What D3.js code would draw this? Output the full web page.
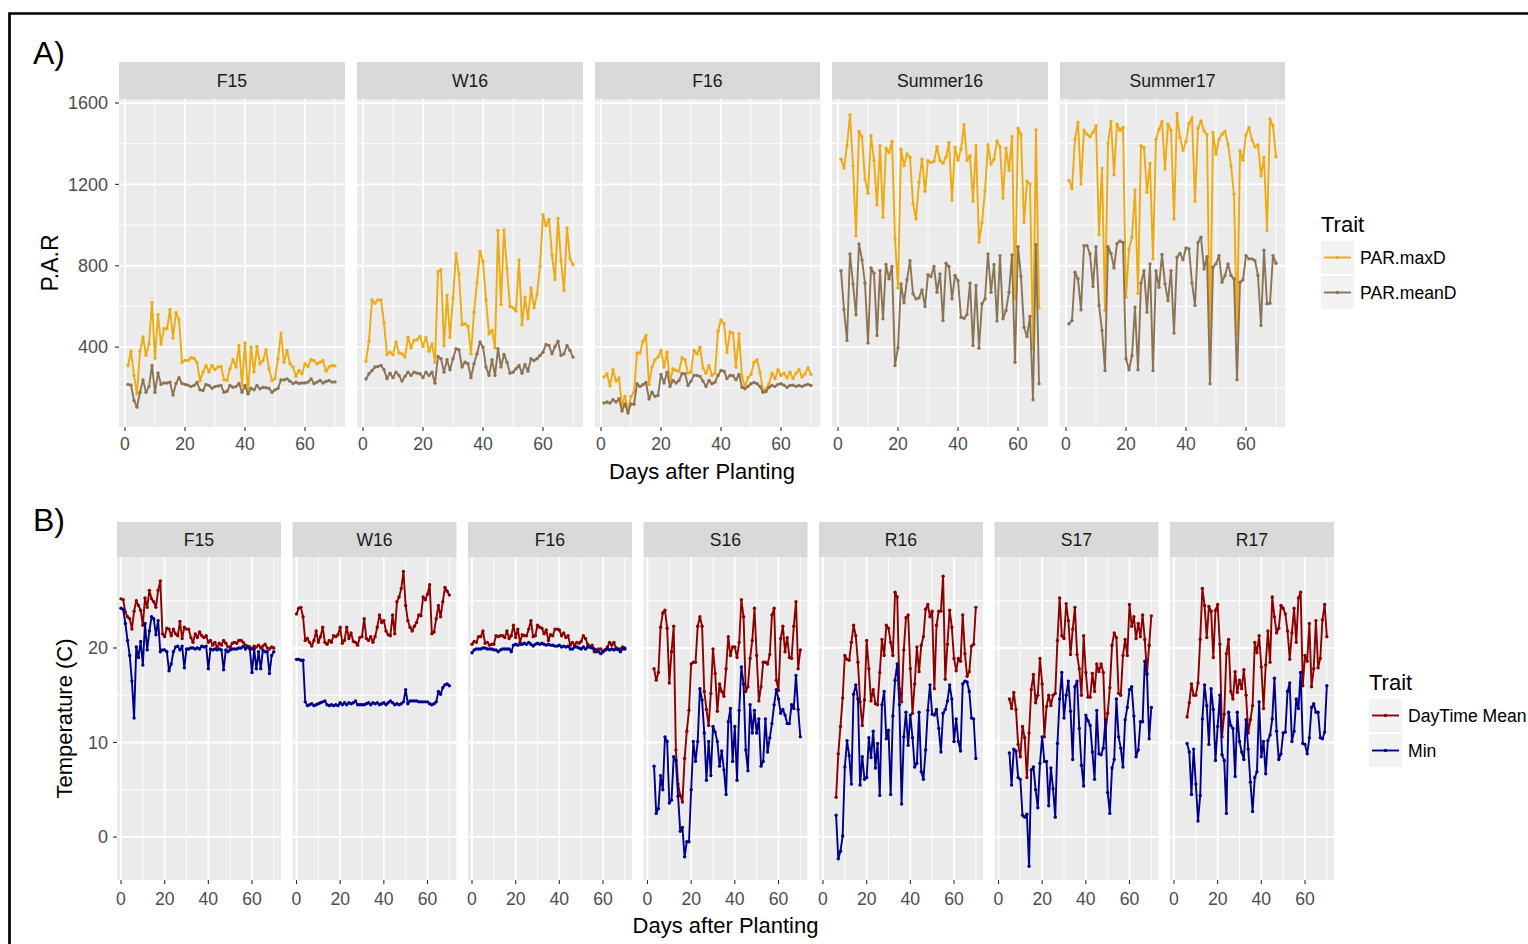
<!DOCTYPE html>
<html>
<head>
<meta charset="utf-8">
<script src="https://cdn.jsdelivr.net/npm/d3@7"></script>
<style>
body { margin: 0; background: #fff; }
text { font-family: "Liberation Sans", Arial, sans-serif; }
</style>
</head>
<body>
<svg id="chart" width="1528" height="944"></svg>
<script>

//////////////////////////////////////////////////////////////////////////////
// Data: panel A (P.A.R), one value per day starting at day 1

var seasonsA = ["F15", "W16", "F16", "Summer16", "Summer17"];
var startA = [1, 1, 1, 1, 1];

var parMaxF15 = [310,380,260,171,380,450,360,415,620,345,560,415,490,490,585,445,570,535,325,335,
    335,348,345,325,235,278,310,278,310,290,302,305,240,236,295,338,302,408,212,420,
    171,400,278,403,318,334,387,294,236,245,343,469,326,384,318,302,256,285,269,318,
    305,338,334,318,326,334,282,302,310,308];
var parMeanF15 = [217,213,138,105,178,239,178,206,310,178,273,217,224,224,228,165,221,250,221,217,
    213,206,211,226,190,187,217,211,198,206,209,211,178,183,211,203,206,221,178,211,
    170,198,190,211,195,203,200,198,178,190,198,239,239,244,232,221,228,221,224,224,
    228,244,221,228,236,224,231,236,228,229];

var parMaxW16 = [331,429,632,616,632,632,519,364,375,362,425,371,367,351,449,397,433,436,452,403,
    449,380,416,326,771,780,407,654,449,642,858,760,510,515,503,367,572,716,870,822,
    632,465,482,397,973,609,976,784,600,593,577,829,510,645,539,691,593,658,796,1051,
    997,1028,852,732,1033,825,678,986,834,806];
var parMeanW16 = [243,269,285,302,305,310,289,245,272,250,277,261,233,256,277,261,277,272,269,250,
    277,261,277,223,354,343,277,338,289,343,392,387,302,326,318,250,318,367,425,400,
    302,261,338,261,392,302,364,326,272,277,294,310,272,315,282,343,334,343,359,375,
    413,408,367,403,429,359,367,408,384,351];

var parMaxF16 = [253,269,209,289,233,248,114,158,86,158,178,371,371,429,457,217,302,338,351,384,
    302,375,228,294,285,282,348,338,272,277,384,367,400,298,272,310,261,272,478,534,
    515,375,474,469,302,465,253,206,250,266,326,338,277,187,195,220,272,245,289,261,
    272,250,277,245,272,289,253,269,298,266];
var parMeanF16 = [125,130,125,141,130,146,86,121,76,121,119,220,207,215,226,145,178,158,163,266,
    224,277,207,236,224,236,269,269,211,233,261,261,256,233,207,236,220,228,261,285,
    282,245,261,259,240,266,203,195,207,220,226,220,207,178,182,203,211,207,217,220,
    213,203,211,213,207,211,207,213,217,211];

var parMaxSummer16 = [1324,1280,1390,1542,1292,948,1460,1434,1226,1156,1439,1319,1100,1390,1038,1378,1357,1411,931,691,
    1373,1292,1349,1333,1107,1030,1210,1324,1166,1316,1308,1313,1385,1316,1303,1333,1406,1123,1382,1319,
    1373,1493,1319,1341,1117,1390,915,1013,1169,1395,1300,1324,1414,1385,1133,1378,1270,1434,637,1476,
    1444,1013,1215,1202,392,1467,593];
var parMeanSummer16 = [776,585,433,858,711,559,907,829,714,420,789,763,457,776,539,806,736,796,310,397,
    711,618,731,825,662,637,642,681,600,756,747,796,670,760,531,812,796,637,752,727,
    547,542,560,714,408,703,395,613,637,858,670,806,528,850,539,580,670,853,326,894,
    747,498,452,551,141,904,220];

var parMaxSummer17 = [1219,1180,1422,1504,1202,1466,1447,1434,1455,1488,953,1280,580,1401,1509,1247,1496,1466,1480,645,
    883,940,1172,665,1390,1381,1161,1303,834,1422,1471,1509,1275,1496,1466,1030,1548,1431,1368,1411,
    1499,1526,1117,1476,1512,1463,1444,420,1455,1349,1422,1447,1460,1398,1292,1152,457,1365,1319,1444,
    1480,1418,1385,1395,1242,1333,973,1521,1488,1336];
var parMeanSummer17 = [515,531,768,736,583,899,899,858,698,894,605,482,285,894,861,789,909,922,914,343,
    289,359,596,289,714,776,572,809,285,776,694,855,711,629,776,469,842,861,829,888,
    883,714,605,914,940,784,845,220,793,809,850,719,752,809,752,736,240,719,731,850,
    834,834,825,752,506,876,613,616,850,812];

var yTicksA = [400, 800, 1200, 1600];
var yMinorA = [200, 600, 1000, 1400];

//////////////////////////////////////////////////////////////////////////////
// Data: panel B (temperature)

var seasonsB = ["F15", "W16", "F16", "S16", "R16", "S17", "R17"];
var startB = [0, 0, 0, 3, 6, 5, 6];

var tMeanF15 = [25.2,25.1,23.8,23.3,23.1,22.0,23.9,25.0,24.5,24.0,22.4,25.3,24.3,26.1,25.2,24.9,24.3,26.1,27.1,21.5,
    21.2,22.1,22.0,21.3,22.0,21.5,21.3,22.8,21.0,22.2,22.0,22.0,21.1,20.6,21.5,21.1,21.7,21.3,21.1,21.3,
    20.6,20.8,20.3,20.6,20.1,20.5,20.3,20.8,20.5,20.1,20.1,20.5,20.6,20.5,20.8,20.8,20.6,20.3,20.2,20.1,
    19.9,20.2,20.1,20.3,20.0,20.2,20.4,20.0,19.9,20.1,20.0];
var tMinF15 = [24.2,24.1,22.6,20.8,19.2,16.5,12.6,20.1,19.0,20.7,18.2,22.6,19.8,21.8,23.3,23.1,21.4,22.9,19.6,19.8,
    19.8,19.6,17.6,18.3,19.6,20.1,20.2,19.8,20.2,17.9,19.9,19.9,20.0,20.0,19.9,20.0,19.9,20.2,20.1,20.2,
    17.8,19.9,19.8,19.9,19.8,19.9,19.8,17.7,19.8,19.6,19.8,19.9,19.9,19.9,20.0,20.0,20.2,19.9,20.1,19.9,
    17.4,19.9,17.8,19.6,17.8,19.8,19.6,19.6,17.3,19.2,19.6];

var tMeanW16 = [23.6,24.2,24.3,23.3,20.8,21.0,20.6,20.2,20.8,21.8,20.6,21.2,22.2,20.6,20.4,20.8,20.6,21.3,21.2,21.4,
    22.2,20.5,20.8,22.2,21.0,21.6,20.7,20.6,20.3,21.1,21.2,23.1,21.0,20.8,21.2,20.6,21.2,22.2,23.5,22.7,
    22.9,21.8,21.4,21.3,23.5,21.5,24.9,25.4,26.3,28.1,24.5,22.9,22.2,21.8,22.3,22.7,23.5,23.4,25.4,25.1,
    25.7,26.7,21.5,21.7,23.1,24.5,23.3,24.9,26.4,26.0,25.6];
var tMinW16 = [18.8,18.8,18.7,18.7,14.3,13.9,14.0,14.1,13.9,14.0,14.1,14.2,14.3,14.4,14.0,13.9,14.0,13.9,14.0,13.9,
    14.2,14.0,14.2,14.0,14.2,14.1,14.2,14.4,14.0,14.0,14.0,14.0,14.1,14.2,14.0,14.2,14.1,14.2,14.0,14.1,
    14.2,14.0,14.2,14.4,14.2,14.0,14.1,14.0,14.1,14.3,15.6,14.1,14.4,14.4,14.4,14.4,14.3,14.3,14.3,14.3,
    14.3,14.1,14.0,14.1,14.3,15.4,15.1,15.8,16.1,16.2,16.0];

var tMeanF16 = [20.4,20.7,20.6,21.2,21.2,21.8,20.5,20.6,20.3,20.4,20.4,21.3,21.2,21.3,21.3,21.1,21.8,21.0,21.3,22.4,
    21.1,22.0,20.6,21.4,21.3,21.3,22.0,22.9,21.2,21.3,22.4,22.2,22.1,21.5,21.9,20.8,21.4,21.3,22.0,22.0,
    21.9,21.3,21.6,21.1,21.3,20.3,20.6,20.3,20.6,20.5,20.7,21.3,21.0,20.4,20.1,20.3,19.6,19.8,19.9,19.9,
    19.6,19.8,20.1,20.6,20.3,20.6,20.0,19.8,19.9,20.1,20.0];
var tMinF16 = [19.5,19.8,19.9,19.9,19.9,20.0,20.0,19.9,19.9,19.9,19.8,19.8,19.6,19.8,19.9,19.9,19.9,19.9,19.6,20.3,
    20.4,20.3,20.4,20.4,20.5,20.4,20.6,20.4,20.2,20.4,20.5,20.4,20.5,20.4,20.3,20.4,20.3,20.3,20.2,20.2,
    20.3,20.1,20.2,20.1,20.2,19.9,19.9,20.1,20.1,20.0,19.9,20.1,19.9,20.1,20.1,20.0,19.9,19.6,19.6,19.4,
    19.6,19.8,19.9,19.8,19.9,19.8,19.9,19.9,19.6,19.9,19.9];

var tMeanS16 = [17.8,16.6,17.4,22.2,23.7,24.0,22.1,16.3,19.6,22.3,9.2,5.6,4.4,3.7,8.3,11.2,13.4,18.3,18.5,18.5,
    22.3,23.3,22.3,15.4,13.5,11.8,15.2,19.9,17.3,13.3,16.2,15.4,14.9,17.8,21.2,19.2,20.1,20.1,19.0,20.6,
    25.1,23.3,15.4,15.9,18.9,20.8,24.2,19.2,14.4,15.9,18.5,18.5,18.3,19.3,23.5,24.2,16.6,15.5,21.0,22.3,
    19.6,21.1,19.0,18.9,22.3,24.9,17.8,19.8];
var tMinS16 = [7.5,2.5,3.0,6.5,5.0,10.6,10.1,3.6,3.9,8.5,8.1,4.3,0.6,1.0,-2.1,-0.5,-0.5,5.0,10.1,8.0,
    10.1,15.7,14.5,11.0,6.0,10.1,6.5,11.7,11.1,10.1,7.5,9.1,7.1,4.5,12.2,13.6,8.0,11.7,6.0,13.4,
    18.0,16.2,9.2,7.0,14.0,11.0,13.4,11.0,12.5,7.5,8.0,12.5,9.0,10.5,12.0,14.0,15.6,14.6,13.1,13.5,
    12.9,12.0,12.0,14.0,13.6,17.1,13.5,10.6];

var tMeanR16 = [4.2,8.8,11.7,14.7,19.2,18.8,18.7,20.6,22.4,21.3,18.5,14.3,11.8,14.5,20.8,17.8,14.4,15.6,14.1,14.0,
    17.4,20.9,19.2,22.4,22.1,20.6,19.2,25.9,25.4,15.7,14.3,19.8,23.2,23.5,17.8,13.1,16.2,20.1,17.5,20.3,
    21.2,24.1,24.6,23.3,23.9,15.7,22.4,23.9,23.9,27.6,16.7,20.4,24.0,22.2,18.9,17.6,18.9,18.6,23.5,19.4,
    17.0,17.5,20.2,20.4,24.3];
var tMinR16 = [2.3,-2.3,-1.5,0.1,7.4,10.2,8.6,5.6,15.1,16.1,14.6,5.5,8.5,6.1,6.3,10.5,8.4,11.2,7.3,9.9,
    4.4,14.0,15.4,10.4,11.3,4.5,12.8,16.6,18.3,14.0,3.5,10.6,13.2,9.7,12.9,10.5,7.4,7.8,13.2,6.9,
    6.1,9.2,13.4,16.1,13.0,12.9,13.5,11.5,9.0,13.1,13.5,14.4,16.1,14.6,10.1,12.5,10.1,9.1,16.2,16.5,
    16.4,15.4,12.6,12.5,8.3];

var tMeanS17 = [14.6,13.6,15.3,13.5,9.8,8.5,11.7,10.5,6.3,11.0,15.6,17.2,14.2,15.0,18.9,16.2,10.6,13.8,15.0,13.9,
    15.0,15.2,20.8,25.3,21.3,21.0,24.7,22.9,19.3,22.0,24.3,19.3,17.8,15.0,21.3,17.4,14.8,14.8,17.3,15.4,
    18.3,17.5,18.3,17.4,11.0,13.1,15.8,20.3,21.6,21.1,15.2,15.0,19.2,20.9,19.2,24.6,22.3,23.3,21.0,22.6,
    21.2,23.5,20.9,17.3,20.3,23.4];
var tMinS17 = [8.9,5.5,9.3,9.1,6.3,6.1,2.3,2.1,2.4,-3.1,7.1,7.4,5.0,3.1,7.8,10.6,8.0,8.0,3.3,7.3,
    5.1,2.1,9.9,14.6,17.4,12.6,15.0,16.5,13.3,8.2,15.9,16.5,11.5,7.6,5.4,12.9,12.3,11.8,9.0,6.1,
    13.4,8.8,8.7,9.4,12.4,4.7,2.5,7.3,8.2,14.6,10.6,9.4,7.4,12.4,13.7,15.6,15.9,12.8,8.5,9.2,
    12.2,12.2,18.6,17.2,10.4,13.7];

var tMeanR17 = [12.7,14.2,16.2,15.0,15.0,16.3,20.9,26.3,24.5,21.1,24.4,23.9,19.0,24.0,24.6,20.4,10.6,13.0,19.4,20.9,
    15.4,14.6,17.5,15.3,16.6,15.7,17.7,15.0,11.0,12.4,13.9,20.6,19.5,21.3,18.0,13.6,18.2,21.8,18.5,25.4,
    23.3,21.6,22.1,24.5,24.2,23.6,21.8,18.8,21.6,24.2,20.6,25.3,25.9,16.0,19.2,18.6,22.6,15.9,17.8,22.9,
    17.9,18.9,23.0,24.6,21.2];
var tMinR17 = [9.9,9.0,4.5,9.3,5.6,1.7,4.4,12.5,16.1,13.9,9.8,15.7,13.5,8.1,11.7,15.0,8.7,8.1,2.5,13.2,
    11.8,11.5,6.4,13.2,10.1,9.0,8.2,12.4,9.3,5.8,2.7,6.3,6.9,14.3,8.5,10.1,6.7,10.2,10.8,12.5,
    16.8,11.2,8.2,8.8,11.0,11.1,15.4,16.3,10.1,11.2,14.6,13.6,17.4,9.9,9.8,8.8,10.5,13.7,14.1,13.2,
    13.2,10.5,10.4,11.1,16.0];

var yTicksB = [0, 10, 20];
var yMinorB = [5, 15, 25];

var xTicks = [0, 20, 40, 60];
var xMinor = [10, 30, 50, 70];

//////////////////////////////////////////////////////////////////////////////
// Layout

var svg = d3.select("#chart");

var panelA = {
    names: seasonsA,
    lefts: [119, 357, 595, 832, 1060],
    widths: [226, 226, 225, 216, 225],
    x0: 6, span: 180,
    stripTop: 62, top: 99, bottom: 427,
    y: d3.scaleLinear().domain([0, 1600]).range([428.5, 103]),
    yTicks: yTicksA, yMinor: yMinorA,
    xLabelY: 450,
    series: [
        { key: "PAR.maxD", color: "#EEAA11", starts: startA,
          values: [parMaxF15, parMaxW16, parMaxF16, parMaxSummer16, parMaxSummer17] },
        { key: "PAR.meanD", color: "#8B7355", starts: startA,
          values: [parMeanF15, parMeanW16, parMeanF16, parMeanSummer16, parMeanSummer17] }
    ]
};

var panelB = {
    names: seasonsB,
    lefts: seasonsB.map(function(d, i) { return 117 + i * 175.5; }),
    widths: seasonsB.map(function() { return 164; }),
    x0: 4, span: 131,
    stripTop: 522, top: 557, bottom: 880,
    y: d3.scaleLinear().domain([0, 20]).range([837, 648]),
    yTicks: yTicksB, yMinor: yMinorB,
    xLabelY: 905,
    series: [
        { key: "DayTime Mean", color: "#8B0000", starts: startB,
          values: [tMeanF15, tMeanW16, tMeanF16, tMeanS16, tMeanR16, tMeanS17, tMeanR17] },
        { key: "Min", color: "#00008B", starts: startB,
          values: [tMinF15, tMinW16, tMinF16, tMinS16, tMinR16, tMinS17, tMinR17] }
    ]
};

function drawFacets(p)
{
    p.names.forEach(function(name, i) {
        var left = p.lefts[i], width = p.widths[i], right = left + width;
        var x = d3.scaleLinear().domain([0, 60]).range([left + p.x0, left + p.x0 + p.span]);
        var g = svg.append("g");

        // strip
        g.append("rect")
            .attr("x", left).attr("y", p.stripTop)
            .attr("width", width).attr("height", p.top - p.stripTop)
            .attr("fill", "#d9d9d9");
        g.append("text")
            .attr("x", left + width / 2).attr("y", (p.stripTop + p.top) / 2)
            .attr("dy", "0.35em")
            .attr("text-anchor", "middle")
            .attr("font-size", 17.6)
            .attr("fill", "#1a1a1a")
            .text(name);

        // panel background + grid
        g.append("rect")
            .attr("x", left).attr("y", p.top)
            .attr("width", width).attr("height", p.bottom - p.top)
            .attr("fill", "#ebebeb");

        g.selectAll(".ymin").data(p.yMinor).enter().append("line")
            .attr("x1", left).attr("x2", right)
            .attr("y1", p.y).attr("y2", p.y)
            .attr("stroke", "#fff").attr("stroke-width", 0.9);
        g.selectAll(".xmin").data(xMinor.filter(function(d) { return x(d) < right - 1; }))
            .enter().append("line")
            .attr("x1", x).attr("x2", x)
            .attr("y1", p.top).attr("y2", p.bottom)
            .attr("stroke", "#fff").attr("stroke-width", 0.9);
        g.selectAll(".ymaj").data(p.yTicks).enter().append("line")
            .attr("x1", left).attr("x2", right)
            .attr("y1", p.y).attr("y2", p.y)
            .attr("stroke", "#fff").attr("stroke-width", 1.8);
        g.selectAll(".xmaj").data(xTicks).enter().append("line")
            .attr("x1", x).attr("x2", x)
            .attr("y1", p.top).attr("y2", p.bottom)
            .attr("stroke", "#fff").attr("stroke-width", 1.8);

        // series: line + points
        p.series.forEach(function(s) {
            var start = s.starts[i];
            var pts = s.values[i].map(function(v, k) { return [start + k, v]; });
            var line = d3.line()
                .x(function(d) { return x(d[0]); })
                .y(function(d) { return p.y(d[1]); });
            g.append("path")
                .attr("d", line(pts))
                .attr("fill", "none")
                .attr("stroke", s.color)
                .attr("stroke-width", 1.9)
                .attr("stroke-linejoin", "round");
            g.selectAll(null).data(pts).enter().append("circle")
                .attr("cx", function(d) { return x(d[0]); })
                .attr("cy", function(d) { return p.y(d[1]); })
                .attr("r", 1.7)
                .attr("fill", s.color);
        });

        // x axis ticks + labels
        g.selectAll(null).data(xTicks).enter().append("line")
            .attr("x1", x).attr("x2", x)
            .attr("y1", p.bottom).attr("y2", p.bottom + 4)
            .attr("stroke", "#333").attr("stroke-width", 1.1);
        g.selectAll(null).data(xTicks).enter().append("text")
            .attr("x", x).attr("y", p.xLabelY)
            .attr("text-anchor", "middle")
            .attr("font-size", 17.6)
            .attr("fill", "#4d4d4d")
            .text(function(d) { return d; });

        // y axis only on the first facet
        if (i === 0) {
            g.selectAll(null).data(p.yTicks).enter().append("line")
                .attr("x1", left - 4).attr("x2", left)
                .attr("y1", p.y).attr("y2", p.y)
                .attr("stroke", "#333").attr("stroke-width", 1.1);
            g.selectAll(null).data(p.yTicks).enter().append("text")
                .attr("x", 108)
                .attr("y", p.y)
                .attr("dy", "0.35em")
                .attr("text-anchor", "end")
                .attr("font-size", 18)
                .attr("fill", "#4d4d4d")
                .text(function(d) { return d; });
        }
    });
}

function drawLegend(series, lx, titleY, keyTop)
{
    var g = svg.append("g");
    g.append("text")
        .attr("x", lx).attr("y", titleY)
        .attr("font-size", 22)
        .text("Trait");
    series.forEach(function(s, k) {
        var top = keyTop + k * 35;
        g.append("rect")
            .attr("x", lx).attr("y", top)
            .attr("width", 33).attr("height", 33)
            .attr("fill", "#f2f2f2");
        g.append("line")
            .attr("x1", lx + 3).attr("x2", lx + 30)
            .attr("y1", top + 16.5).attr("y2", top + 16.5)
            .attr("stroke", s.color).attr("stroke-width", 1.9);
        g.append("circle")
            .attr("cx", lx + 16.5).attr("cy", top + 16.5)
            .attr("r", 1.7).attr("fill", s.color);
        g.append("text")
            .attr("x", lx + 39).attr("y", top + 16.5)
            .attr("dy", "0.35em")
            .attr("font-size", 17.6)
            .text(s.key);
    });
}

drawFacets(panelA);
drawFacets(panelB);

drawLegend(panelA.series, 1321, 232, 241);
drawLegend(panelB.series, 1369, 690, 699);

// axis titles
svg.append("text")
    .attr("transform", "translate(58," + (panelA.top + panelA.bottom) / 2 + ") rotate(-90)")
    .attr("text-anchor", "middle").attr("font-size", 23)
    .text("P.A.R");
svg.append("text")
    .attr("transform", "translate(72," + (panelB.top + panelB.bottom) / 2 + ") rotate(-90)")
    .attr("text-anchor", "middle").attr("font-size", 22)
    .text("Temperature (C)");
svg.append("text")
    .attr("x", 702).attr("y", 479)
    .attr("text-anchor", "middle").attr("font-size", 22)
    .text("Days after Planting");
svg.append("text")
    .attr("x", 725.5).attr("y", 933)
    .attr("text-anchor", "middle").attr("font-size", 22)
    .text("Days after Planting");

// panel letters
svg.append("text").attr("x", 33).attr("y", 64).attr("font-size", 32).text("A)");
svg.append("text").attr("x", 33).attr("y", 531).attr("font-size", 32).text("B)");

// frame
svg.append("path")
    .attr("d", "M 9.5 944 L 9.5 13.5 L 1528 13.5")
    .attr("fill", "none")
    .attr("stroke", "#000")
    .attr("stroke-width", 2.7);

</script>
</body>
</html>
